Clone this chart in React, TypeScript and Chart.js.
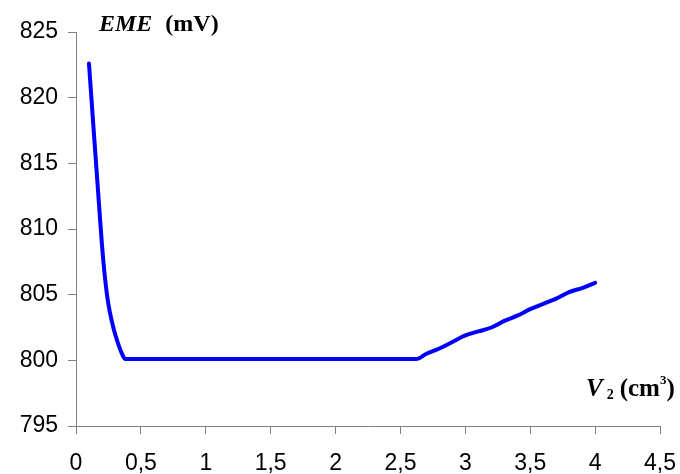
import React, { useEffect, useRef } from "react";
import { Chart, registerables } from "chart.js";

Chart.register(...registerables);

// Volume V2 (cm3)
const volumes = [
  0.1, 0.14, 0.18, 0.2, 0.22, 0.24, 0.26, 0.29, 0.32, 0.35, 0.38,
  0.5, 0.75, 1.0, 1.25, 1.5, 1.75, 2.0, 2.25, 2.5, 2.62,
  2.7, 2.8, 2.9, 3.0, 3.1, 3.2, 3.3, 3.4, 3.5, 3.6, 3.7, 3.8, 3.9, 4.0,
];
// EME (mV)
const emeValues = [
  822.6, 817.0, 811.5, 808.8, 806.6, 804.9, 803.7, 802.4, 801.4, 800.6, 800.1,
  800.1, 800.1, 800.1, 800.1, 800.1, 800.1, 800.1, 800.1, 800.1, 800.1,
  800.5, 800.9, 801.4, 801.9, 802.2, 802.5, 803.0, 803.4, 803.9, 804.3, 804.7, 805.2, 805.5, 805.9,
];

const xMin = 0;
const xMax = 4.5;
const xStep = 0.5;
const yMin = 795;
const yMax = 825;
const yStep = 5;

const yTitleMain = "EME";
const yTitleUnit = "(mV)";
const xTitleMain = "V";
const xTitleSub = "2";
const xTitleUnit = "(cm";
const xTitleSup = "3";
const xTitleClose = ")";

const serif = '"Liberation Serif", "Times New Roman", serif';

const titlesPlugin = {
  id: "axisTitles",
  afterDraw(chart: any) {
    const { ctx, chartArea } = chart;
    ctx.save();
    ctx.fillStyle = "#000";
    ctx.textBaseline = "alphabetic";
    ctx.textAlign = "left";
    // Y title
    let x = chartArea.left + 23;
    const yb = chartArea.top - 1;
    ctx.font = `italic bold 24px ${serif}`;
    ctx.fillText(yTitleMain, x, yb);
    x += ctx.measureText(yTitleMain).width + 13;
    ctx.font = `bold 24px ${serif}`;
    ctx.fillText(yTitleUnit, x, yb);

    // X title
    const xb = chartArea.bottom - 30;
    let xx = chartArea.right - 74;
    ctx.font = `italic bold 25px ${serif}`;
    ctx.fillText(xTitleMain, xx, xb);
    xx += ctx.measureText(xTitleMain).width + 4;
    ctx.font = `bold 14px ${serif}`;
    ctx.fillText(xTitleSub, xx, xb + 3);
    xx += ctx.measureText(xTitleSub).width + 6;
    ctx.font = `bold 25px ${serif}`;
    ctx.fillText(xTitleUnit, xx, xb);
    xx += ctx.measureText(xTitleUnit).width;
    ctx.font = `bold 13px ${serif}`;
    ctx.fillText(xTitleSup, xx, xb - 12);
    xx += ctx.measureText(xTitleSup).width;
    ctx.font = `bold 25px ${serif}`;
    ctx.fillText(xTitleClose, xx, xb);
    ctx.restore();
  },
};

export default function App() {
  const canvasRef = useRef<HTMLCanvasElement | null>(null);

  useEffect(() => {
    document.body.style.margin = "0";
    const canvas = canvasRef.current;
    if (!canvas) return;
    const axisColor = "#808080";
    const tickFont = { family: '"Liberation Sans", Arial, sans-serif', size: 23 };
    const chart = new Chart(canvas, {
      type: "line",
      data: {
        datasets: [
          {
            data: volumes.map((v, i) => ({ x: v, y: emeValues[i] })),
            borderColor: "#0000FF",
            borderWidth: 4,
            pointRadius: 0,
            cubicInterpolationMode: "monotone",
            fill: false,
            borderCapStyle: "round",
            borderJoinStyle: "round",
          },
        ],
      },
      options: {
        animation: false,
        responsive: false,
        maintainAspectRatio: false,
        layout: { padding: { left: 0, right: 20, top: 32, bottom: 0 } },
        plugins: { legend: { display: false }, tooltip: { enabled: false } },
        scales: {
          x: {
            type: "linear",
            min: xMin,
            max: xMax,
            ticks: {
              stepSize: xStep,
              color: "#000",
              font: tickFont,
              padding: 16,
              maxRotation: 0,
              callback: (v: any) => String(v).replace(".", ","),
            },
            grid: { drawOnChartArea: false, drawTicks: true, tickLength: 8, color: axisColor },
            border: { display: true, color: axisColor, width: 1 },
            afterFit: (scale: any) => {
              scale.height = 48;
              scale.paddingLeft = 0;
              scale.paddingRight = 0;
            },
          },
          y: {
            type: "linear",
            min: yMin,
            max: yMax,
            ticks: {
              stepSize: yStep,
              color: "#000",
              font: tickFont,
              padding: 10,
            },
            grid: { drawOnChartArea: false, drawTicks: true, tickLength: 8, color: axisColor },
            border: { display: true, color: axisColor, width: 1 },
            afterFit: (scale: any) => {
              scale.width = 76;
              scale.paddingTop = 0;
              scale.paddingBottom = 0;
            },
          },
        },
      },
      plugins: [titlesPlugin],
    });
    return () => chart.destroy();
  }, []);

  return (
    <div style={{ width: 680, height: 474, position: "relative", background: "#fff" }}>
      <canvas ref={canvasRef} width={680} height={474} style={{ display: "block" }} />
    </div>
  );
}
